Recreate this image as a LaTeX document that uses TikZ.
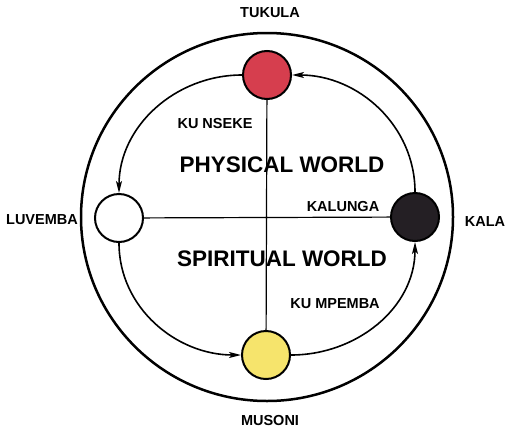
\documentclass[tikz,border=0pt]{standalone}
\usepackage{fontspec}
\setmainfont{Liberation Sans}
\usetikzlibrary{arrows.meta}
\definecolor{tukulared}{RGB}{214,62,78}
\definecolor{musoniyellow}{RGB}{246,228,108}
\definecolor{kaladark}{RGB}{36,31,36}
\begin{document}
\begin{tikzpicture}[x=1pt,y=1pt,font=\bfseries\fontsize{14.5}{17}\selectfont,
  sun/.style={circle,draw=black,line width=2pt,minimum size=48pt,inner sep=0pt},
  walk/.style={line width=1.6pt,-{Stealth[length=12pt,width=6pt,inset=3pt]}},
  world/.style={font=\bfseries\fontsize{22.5}{26}\selectfont}]
\useasboundingbox (0,0) rectangle (510,-431);
% outer ring
\draw[line width=2.5pt] (267,-217) ellipse [x radius=186,y radius=184];
% the four moments of the sun
\node[sun,fill=tukulared]    (tukula)  at (267,-75)  {};
\node[sun,fill=white]        (luvemba) at (119,-218) {};
\node[sun,fill=kaladark]     (kala)    at (415,-217) {};
\node[sun,fill=musoniyellow] (musoni)  at (266,-355) {};
% cross
\draw[line width=1.2pt] (tukula) -- (musoni)
                        (luvemba) -- (kala);
% course of the sun
\draw[walk] (tukula) to[out=180,in=90] (luvemba);
\draw[walk] (luvemba) to[out=270,in=180] (musoni);
\draw[walk] (musoni) to[out=0,in=270] (kala);
\draw[walk] (kala) to[out=90,in=0] (tukula);
% labels
\node (tukulatext)  at (270,-13)  {TUKULA};
\node (luvembatext) at (42,-220)  {LUVEMBA};
\node (kalatext)    at (485,-222) {KALA};
\node (musonitext)  at (270,-420) {MUSONI};
\node (kalungatext) at (343,-207) {KALUNGA};
\node (nseketext)   at (215,-124) {KU NSEKE};
\node (mpembatext)  at (335,-304) {KU MPEMBA};
\node[world] (physical)  at (282,-165) {PHYSICAL WORLD};
\node[world] (spiritual) at (282,-259) {SPIRITUAL WORLD};
\end{tikzpicture}
\end{document}
